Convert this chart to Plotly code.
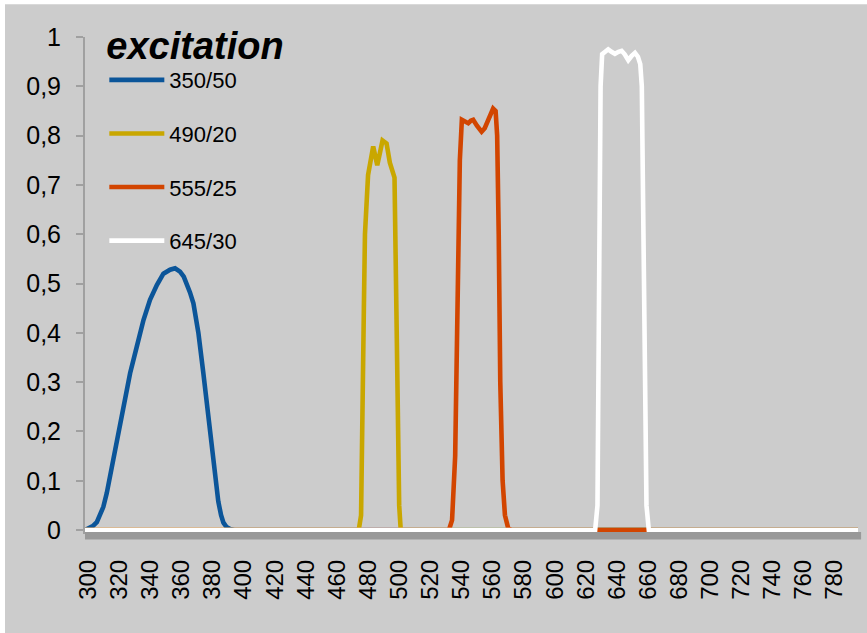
import plotly.graph_objects as go

# Wavelength (nm) and transmission for each excitation filter
wl_350 = [298, 300, 303, 305.6, 307.8, 309.8, 312, 314.1, 318.4, 322.7, 327, 331.3, 335.6,
          339.8, 344.2, 348.4, 352.7, 355.9, 359.1, 361.5, 363.4, 365.5, 367.7, 370.9,
          374.1, 377.3, 380.5, 383.7, 385.5, 387, 389, 391.3, 394, 795]
tr_350 = [0, 0.003, 0.008, 0.016, 0.03, 0.047, 0.075, 0.108, 0.18, 0.25, 0.318, 0.372,
          0.426, 0.467, 0.497, 0.52, 0.528, 0.531, 0.524, 0.514, 0.50, 0.482, 0.46, 0.40,
          0.318, 0.23, 0.135, 0.058, 0.03, 0.015, 0.006, 0.002, 0, 0]

wl_490 = [298, 474, 475.5, 476.5, 477.3, 478, 480, 483.3, 485.9, 487.3, 489.3, 491.9,
          494, 497, 498, 499, 500, 501, 795]
tr_490 = [0, 0, 0.03, 0.2, 0.45, 0.6, 0.72, 0.778, 0.74, 0.76, 0.79, 0.784,
          0.745, 0.715, 0.5, 0.2, 0.05, 0, 0]

wl_555 = [298, 532, 534, 536, 537.5, 539, 540.3, 542, 544.4, 546, 547.6, 550, 553, 555,
          557.2, 559, 560.4, 562, 563, 564, 565, 566.5, 568, 570, 572, 795]
tr_555 = [0, 0, 0.02, 0.15, 0.45, 0.75, 0.832, 0.828, 0.825, 0.83, 0.832, 0.82, 0.808,
          0.815, 0.832, 0.85, 0.855, 0.85, 0.8, 0.6, 0.3, 0.1, 0.03, 0.005, 0, 0]

wl_645 = [298, 626, 627.5, 628.5, 629.5, 630.5, 632, 634.4, 636.5, 638.7, 641, 643, 645,
          647.3, 649.5, 651.6, 653.5, 655, 656, 657, 658, 659, 660.5, 795]
tr_645 = [0, 0, 0.05, 0.5, 0.9, 0.965, 0.97, 0.975, 0.97, 0.966, 0.97, 0.972, 0.965,
          0.953, 0.962, 0.968, 0.96, 0.945, 0.9, 0.6, 0.2, 0.05, 0, 0]

names = ["350/50", "490/20", "555/25", "645/30"]
colors = ["#0b5599", "#c9a700", "#d24500", "#ffffff"]
series = [(wl_350, tr_350), (wl_490, tr_490), (wl_555, tr_555), (wl_645, tr_645)]

x_ticks = list(range(300, 781, 20))
y_ticks = [0, 0.1, 0.2, 0.3, 0.4, 0.5, 0.6, 0.7, 0.8, 0.9, 1]
y_labels = ["0", "0,1", "0,2", "0,3", "0,4", "0,5", "0,6", "0,7", "0,8", "0,9", "1"]

FONT = "Liberation Sans, Arial, sans-serif"
GREY = "#cccccc"

fig = go.Figure()
for (x, y), name, col in zip(series, names, colors):
    fig.add_trace(go.Scatter(
        x=x, y=y, name=name, mode="lines", legendgroup=name,
        line=dict(color=col, width=4.6),
    ))

fig.update_layout(
    width=867, height=633,
    margin=dict(l=85, r=9, t=37, b=99),
    paper_bgcolor="#ffffff",
    plot_bgcolor=GREY,
    font=dict(family=FONT, color="#000000"),
    showlegend=True,
    legend=dict(
        x=0.025, y=1.055, xanchor="left", yanchor="top",
        bgcolor="rgba(0,0,0,0)",
        title=dict(text="excitation", side="top",
                   font=dict(family=FONT, size=38, weight="bold", style="italic")),
        font=dict(family=FONT, size=22),
        tracegroupgap=22,
        itemwidth=55,
    ),
    xaxis=dict(
        range=[298, 795], tickvals=x_ticks, ticktext=[str(v) for v in x_ticks],
        tickangle=-90, tickfont=dict(size=24), showgrid=False, zeroline=False,
        showline=False, ticks="", ticklabelstandoff=20,
    ),
    yaxis=dict(
        range=[-0.008, 1], tickvals=y_ticks, ticktext=y_labels, tickfont=dict(size=25),
        showgrid=False, zeroline=False, showline=True, linecolor="#a0a0a0", linewidth=2,
        ticks="outside", ticklen=7, tickwidth=2, tickcolor="#a0a0a0",
        ticklabelstandoff=10,
    ),
    shapes=[
        # grey chart area inside the thin white page edge
        dict(type="rect", xref="paper", yref="paper", x0=-0.1035, x1=1.02, y0=-0.23, y1=1.066,
             fillcolor=GREY, line=dict(width=0), layer="below"),
        # floor strip under the baseline
        dict(type="rect", xref="paper", yref="paper", x0=0, x1=1.004, y0=-0.011, y1=0.004,
             fillcolor="#999999", line=dict(width=0), layer="above"),
    ],
)

fig.write_html("out.html")
